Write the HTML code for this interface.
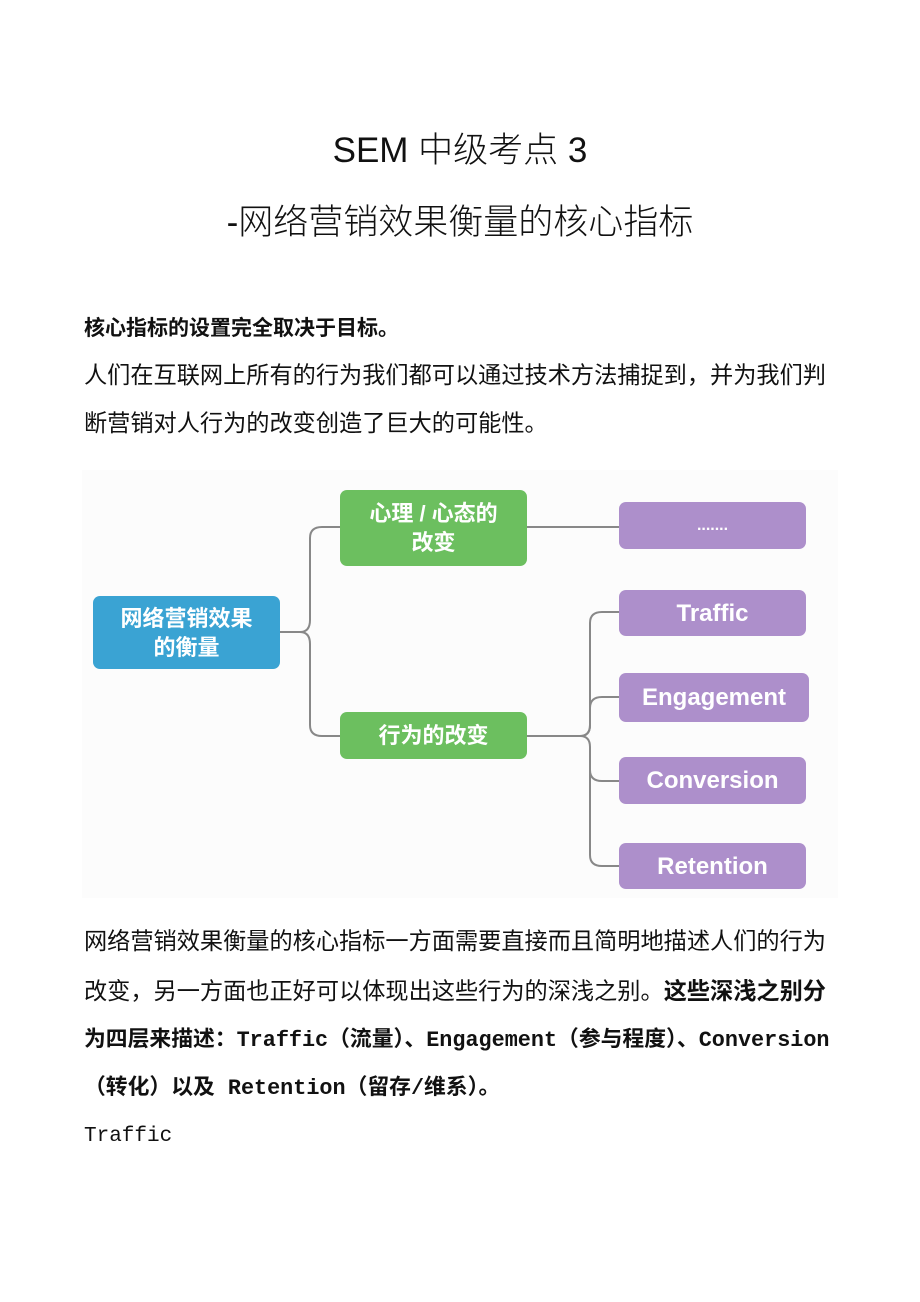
<!DOCTYPE html>
<html><head><meta charset="utf-8"><style>
body{margin:0;background:#fff;width:920px;height:1302px;position:relative;overflow:hidden;font-family:"Liberation Sans","Noto Sans CJK SC",sans-serif;color:#111}
.t{position:absolute;left:0;width:920px;text-align:center;font-size:35px;font-weight:300;line-height:40px}
.l{position:absolute;left:84px;font-size:23.2px;line-height:30px;white-space:nowrap;font-family:"Liberation Mono","Noto Sans CJK SC",sans-serif}
.b{font-weight:bold}
.n{position:absolute;border-radius:7px;color:#fff;font-weight:bold;display:flex;align-items:center;justify-content:center;text-align:center;font-size:22px;line-height:29px;font-family:"Liberation Sans","Noto Sans CJK SC",sans-serif}
.g{background:#6cbf5f}.p{background:#ad8fcb;font-size:24px}.bl{background:#3aa3d3}
</style></head><body>
<div class="t" style="top:131px">SEM 中级考点 3</div>
<div class="t" style="top:203px">-网络营销效果衡量的核心指标</div>
<div class="l b" style="top:314px;font-family:'Liberation Sans','Noto Sans CJK SC',sans-serif;font-size:21px">核心指标的设置完全取决于目标。</div>
<div class="l" style="top:362px">人们在互联网上所有的行为我们都可以通过技术方法捕捉到，并为我们判</div>
<div class="l" style="top:410px">断营销对人行为的改变创造了巨大的可能性。</div>
<div style="position:absolute;left:82px;top:470px;width:756px;height:428px;background:#fcfcfc"></div>
<svg style="position:absolute;left:0;top:0" width="920" height="1302" fill="none" stroke="#888" stroke-width="2">
<path d="M280 632 H300 Q310 632 310 620 V538 Q310 527 322 527 H340"/>
<path d="M300 632 Q310 632 310 644 V725 Q310 736 322 736 H340"/>
<path d="M527 527 H619"/>
<path d="M527 736 H580 Q590 736 590 725 V623 Q590 612 602 612 H619"/>
<path d="M580 736 Q590 736 590 725 V708 Q590 697 602 697 H619"/>
<path d="M580 736 Q590 736 590 747 V770 Q590 781 602 781 H619"/>
<path d="M590 770 V855 Q590 866 602 866 H619"/>
</svg>
<div class="n bl" style="left:93px;top:596px;width:187px;height:73px">网络营销效果<br>的衡量</div>
<div class="n g" style="left:340px;top:490px;width:187px;height:76px">心理 / 心态的<br>改变</div>
<div class="n g" style="left:340px;top:712px;width:187px;height:47px">行为的改变</div>
<div class="n p" style="left:619px;top:502px;width:187px;height:47px;font-size:16px">.......</div>
<div class="n p" style="left:619px;top:590px;width:187px;height:46px">Traffic</div>
<div class="n p" style="left:619px;top:673px;width:190px;height:49px">Engagement</div>
<div class="n p" style="left:619px;top:757px;width:187px;height:47px">Conversion</div>
<div class="n p" style="left:619px;top:843px;width:187px;height:46px">Retention</div>
<div class="l" style="top:928px">网络营销效果衡量的核心指标一方面需要直接而且简明地描述人们的行为</div>
<div class="l" style="top:978px">改变，另一方面也正好可以体现出这些行为的深浅之别。<span class="b">这些深浅之别分</span></div>
<div class="l b" style="top:1026px;font-size:21.8px">为四层来描述：Traffic（流量）、Engagement（参与程度）、Conversion</div>
<div class="l b" style="top:1074px;font-size:21.8px">（转化）以及 Retention（留存/维系）。</div>
<div class="l" style="top:1122px;font-size:21px">Traffic</div>
</body></html>
